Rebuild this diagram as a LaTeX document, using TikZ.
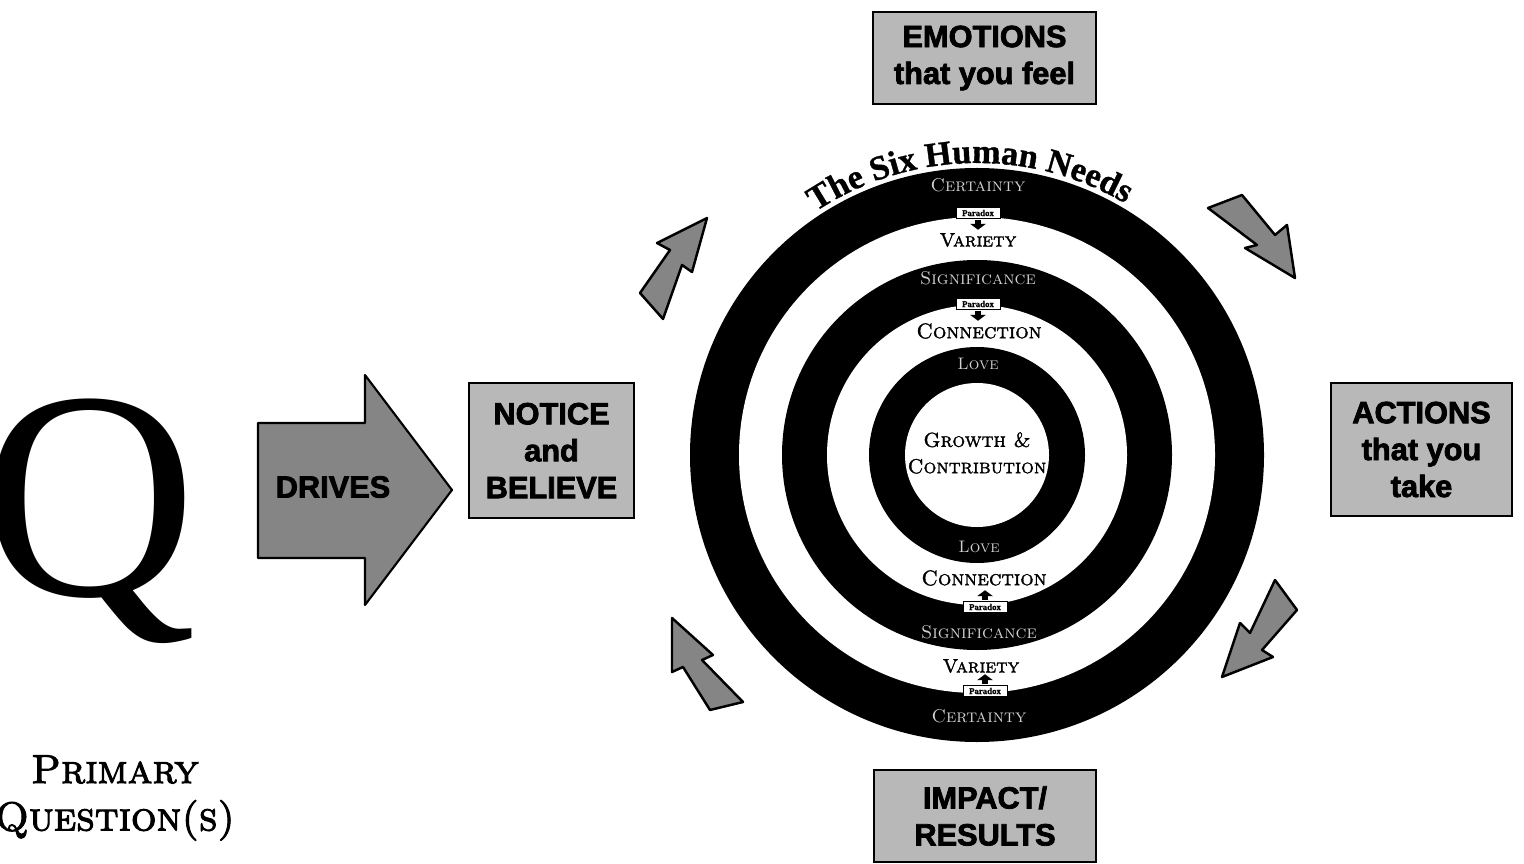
\documentclass[tikz,border=0pt]{standalone}
\usepackage{fontspec}
\usetikzlibrary{decorations.text}
\newfontfamily\heavy{Liberation Sans}[BoldFeatures={FakeBold=2.5}]
\newfontfamily\serifb{Liberation Serif}[BoldFeatures={FakeBold=1}]
\newfontfamily\capsbold{Latin Modern Roman Caps}[FakeBold=1.5]
\newfontfamily\capsheavy{Latin Modern Roman Caps}[FakeBold=2.5]
\definecolor{boxgray}{gray}{0.72}
\definecolor{arrowgray}{gray}{0.52}
\definecolor{ringtext}{gray}{0.82}

\begin{document}
\begin{tikzpicture}[x=0.02cm,y=0.02cm,
  labelbox/.style={draw=black, line width=1.6pt, fill=boxgray, align=center,
    inner sep=0pt, font=\heavy\bfseries\fontsize{17.5}{21}\selectfont},
  blockarrow/.style={draw=black, line width=1.4pt, fill=arrowgray, line join=round},
  ringdark/.style={text=ringtext, inner sep=0pt, font=\fontsize{10.5}{12}\selectfont\scshape},
  ringlight/.style={text=black, inner sep=0pt, font=\capsbold\fontsize{12}{14}\selectfont},
  paradox/.style={draw=black, line width=0.3pt, fill=white, inner sep=0pt,
    minimum width=0.88cm, minimum height=0.22cm,
    font=\serifb\bfseries\fontsize{5}{5}\selectfont}]

\clip (0,0) rectangle (1524,863);
\fill[white] (0,0) rectangle (1524,863);

% the primary question
\node[font=\serifb\fontsize{169}{169}\selectfont, inner sep=0pt, anchor=base] (bigq) at (90,268) {Q};
\node[font=\capsheavy\fontsize{23}{27}\selectfont, align=center, inner sep=0pt] (pq) at (115,65) {Primary\\Question(s)};

% drives arrow
\draw[blockarrow, line width=1.2pt] (258,440) -- (365,440) -- (365,488) -- (452,373)
  -- (365,258) -- (365,305) -- (258,305) -- cycle;
\node[font=\heavy\bfseries\fontsize{17.5}{21}\selectfont, inner sep=0pt] (drives) at (333,376) {DRIVES};

% the four stage boxes
\node[labelbox, minimum width=3.3cm, minimum height=2.7cm] (notice) at (551.5,412.5) {NOTICE\\and\\BELIEVE};
\node[labelbox, minimum width=4.46cm, minimum height=1.84cm] (emotions) at (984.5,805) {EMOTIONS\\that you feel};
\node[labelbox, minimum width=3.62cm, minimum height=2.66cm] (actions) at (1421.5,413.5) {ACTIONS\\that you\\take};
\node[labelbox, minimum width=4.44cm, minimum height=1.84cm] (impact) at (985,47) {IMPACT/\\RESULTS};

% cycle arrows around the rings
\draw[blockarrow] (707,645) -- (692,591) -- (682,598) -- (663,544) -- (640,570) -- (670,613) -- (657,620) -- cycle;
\draw[blockarrow] (1208,655) -- (1242,668) -- (1275,628) -- (1287,638) -- (1295,585) -- (1245,615) -- (1257,618) -- cycle;
\draw[blockarrow] (1275,283) -- (1297,253) -- (1262,213) -- (1273,206) -- (1222,186) -- (1240,240) -- (1250,230) -- cycle;
\draw[blockarrow] (672,245) -- (713,208) -- (702,203) -- (743,161) -- (710,153) -- (683,196) -- (672,191) -- cycle;

% the six human needs rings
\coordinate (ctr) at (977,408);
\fill[black] (ctr) circle[radius=287];
\fill[white] (ctr) circle[radius=238];
\fill[black] (ctr) circle[radius=195];
\fill[white] (ctr) circle[radius=150];
\fill[black] (ctr) circle[radius=108];
\fill[white] (ctr) circle[radius=72];

\path[decorate, decoration={text along path, text align=center,
    text={|\serifb\bfseries\fontsize{19.5}{19.5}\selectfont|The Six Human Needs}}]
  ([shift={(128:292)}]ctr) arc[start angle=128, end angle=55, radius=292];

\node[ringdark] (cert1) at (978,678) {Certainty};
\node[ringlight, font=\capsbold\fontsize{11}{13}\selectfont] (var1) at (978,623) {Variety};
\node[ringdark] (sig1) at (978,585) {Significance};
\node[ringlight] (con1) at (979,532) {Connection};
\node[ringdark, font=\fontsize{9.5}{11}\selectfont\scshape] (love1) at (978,499) {Love};
\node[ringlight, font=\capsbold\fontsize{11.5}{15}\selectfont, align=center] (growth) at (977,410) {Growth \&\\Contribution};
\node[ringdark, font=\fontsize{9.5}{11}\selectfont\scshape] (love2) at (979,316) {Love};
\node[ringlight] (con2) at (984,285) {Connection};
\node[ringdark] (sig2) at (979,231) {Significance};
\node[ringlight, font=\capsbold\fontsize{11}{13}\selectfont] (var2) at (981,197) {Variety};
\node[ringdark] (cert2) at (979,147) {Certainty};

% paradox markers between paired needs
\node[paradox] (px1) at (978,650) {Paradox};
\node[paradox] (px2) at (978,559) {Paradox};
\node[paradox] (px3) at (985,256) {Paradox};
\node[paradox] (px4) at (985,172) {Paradox};
\foreach \p in {px1,px2}{
  \fill ([shift={(-3,-1)}]\p.south) rectangle ++(6,-4);
  \fill ([shift={(-8,-5)}]\p.south) -- ++(16,0) -- ++(-8,-6) -- cycle;
}
\foreach \p in {px3,px4}{
  \fill ([shift={(-3,1)}]\p.north) rectangle ++(6,4);
  \fill ([shift={(-8,5)}]\p.north) -- ++(16,0) -- ++(-8,6) -- cycle;
}
\end{tikzpicture}
\end{document}
